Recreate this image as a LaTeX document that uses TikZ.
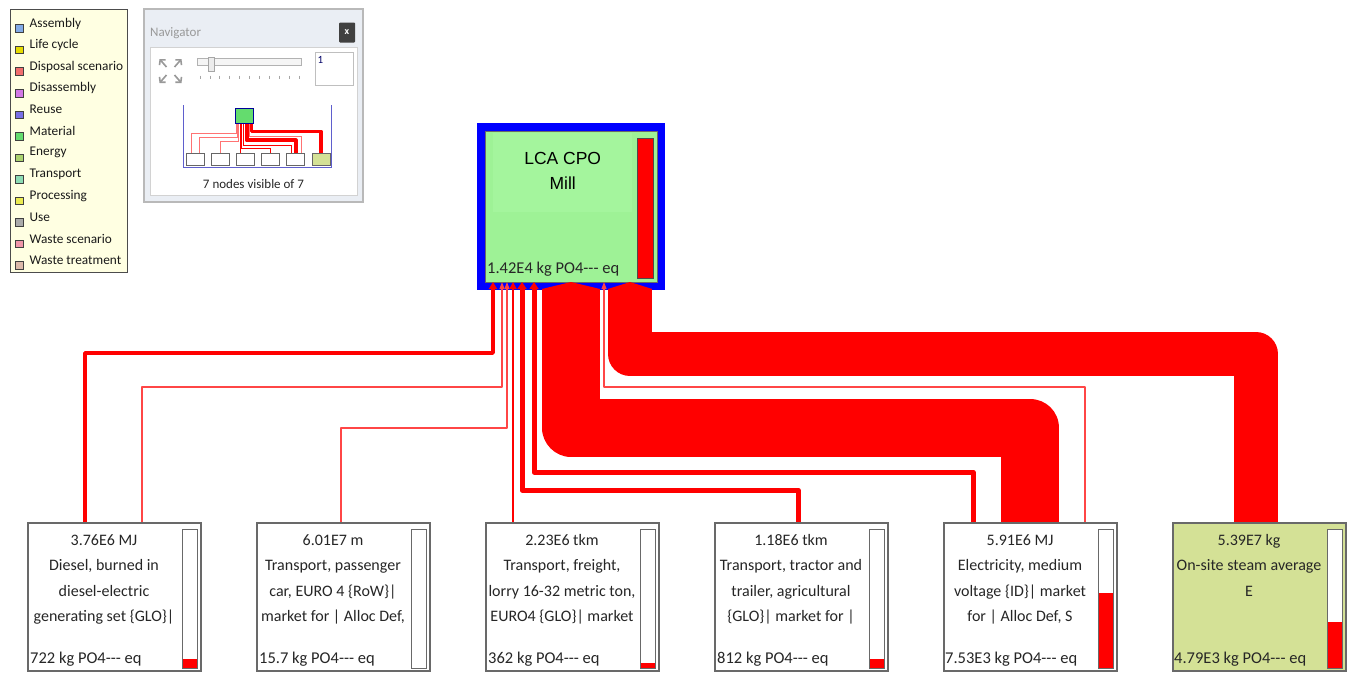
\documentclass[tikz,border=0pt]{standalone}
\usepackage{fontspec}
\setmainfont{Carlito}
\newfontfamily\arialfont{Liberation Sans}
\usepackage{tikz}
\usetikzlibrary{arrows.meta, positioning, calc}

\definecolor{millgreen}{RGB}{158,242,150}
\definecolor{millhi}{RGB}{164,245,157}
\definecolor{steamgreen}{RGB}{212,225,150}
\definecolor{legendbg}{RGB}{255,255,226}
\definecolor{navbg}{RGB}{234,238,244}
\definecolor{boxgray}{RGB}{105,105,105}
\definecolor{miniblue}{RGB}{95,95,205}
\definecolor{thinred}{RGB}{255,70,70}
\definecolor{lgasm}{RGB}{130,170,230}
\definecolor{lglife}{RGB}{230,220,0}
\definecolor{lgdisp}{RGB}{240,110,110}
\definecolor{lgdisa}{RGB}{210,120,230}
\definecolor{lgreuse}{RGB}{120,110,230}
\definecolor{lgmat}{RGB}{100,220,110}
\definecolor{lgener}{RGB}{170,210,110}
\definecolor{lgtrans}{RGB}{140,220,180}
\definecolor{lgproc}{RGB}{235,235,80}
\definecolor{lguse}{RGB}{170,170,170}
\definecolor{lgwsc}{RGB}{240,150,170}
\definecolor{lgwtr}{RGB}{220,185,170}

\newcommand{\poeq}{PO4-{}-{}- eq}

\begin{document}
\begin{tikzpicture}[
    x=1pt, y=-1pt,
    font=\fontsize{16}{25.5}\selectfont,
    flow/.style={draw=red, line join=round, shorten <=-8pt},
    thinflow/.style={flow, draw=thinred, line width=1.2pt, {Triangle[length=7pt, width=5pt]}-},
    mill/.style={rectangle, draw=blue, line width=8pt, fill=millgreen,
      minimum width=180pt, minimum height=159pt},
    millhl/.style={rectangle, fill=millhi, minimum width=139pt, minimum height=79pt},
    milltitle/.style={align=center, inner sep=0pt,
      font=\arialfont\fontsize{17.5}{25}\selectfont},
    millbar/.style={rectangle, draw=black!70, line width=1pt, fill=red,
      minimum width=16pt, minimum height=140pt, inner sep=0pt},
    proc/.style={rectangle, draw=boxgray, line width=2pt, fill=white,
      minimum width=173pt, minimum height=148pt, inner sep=0pt},
    proctext/.style={anchor=north, align=center, inner sep=0pt, text=black!85},
    procval/.style={anchor=base west, inner sep=0pt, text=black!85,
      font=\fontsize{16.5}{20}\selectfont},
    gauge/.style={anchor=south east, rectangle, draw=boxgray, line width=1.5pt,
      fill=white, minimum width=15pt, minimum height=139pt, inner sep=0pt,
      path picture={\fill[red] (path picture bounding box.south west) rectangle
        ($(path picture bounding box.south east)!#1!(path picture bounding box.north east)$);}},
    legendbox/.style={rectangle, draw=gray!60!black, line width=1.5pt, fill=legendbg,
      minimum width=117pt, minimum height=263pt},
    legsq/.style={rectangle, draw=gray!50!black, line width=0.8pt,
      minimum size=7.5pt, inner sep=0pt},
    legtext/.style={anchor=west, inner sep=0pt, text=black!90,
      font=\fontsize{13.3}{15}\selectfont},
    navwin/.style={rectangle, draw=gray!55, line width=1.5pt, fill=navbg,
      minimum width=219pt, minimum height=193pt},
    navtitle/.style={anchor=west, inner sep=0pt, text=gray!80,
      font=\fontsize{13}{15}\selectfont},
    navclose/.style={rectangle, fill=black!75, rounded corners=1pt, text=white,
      minimum width=16pt, minimum height=20pt, inner sep=0pt,
      font=\bfseries\fontsize{10}{12}\selectfont},
    navpanel/.style={rectangle, fill=white, draw=gray!35,
      minimum width=207pt, minimum height=148pt},
    navfield/.style={rectangle, fill=white, draw=gray!50, line width=1pt,
      minimum width=38pt, minimum height=33pt},
    thumb/.style={rectangle, fill=gray!15, draw=gray!70, line width=0.8pt,
      minimum width=6pt, minimum height=14pt, inner sep=0pt},
    minitop/.style={rectangle, fill=lgmat, draw=blue!60!black, line width=1.5pt,
      minimum width=18pt, minimum height=15pt, inner sep=0pt},
    mininode/.style={rectangle, fill=white, draw=black!60, line width=1pt,
      minimum width=18pt, minimum height=12pt, inner sep=0pt},
    miniflow/.style={draw=red!55, line width=0.6pt}
  ]
  \useasboundingbox (0,0) rectangle (1352,672);

  % legend of process types
  \node[legendbox] (legend) at (69,141) {};
  \foreach \lab/\col [count=\i from 0] in {Assembly/lgasm, Life cycle/lglife,
      Disposal scenario/lgdisp, Disassembly/lgdisa, Reuse/lgreuse, Material/lgmat,
      Energy/lgener, Transport/lgtrans, Processing/lgproc, Use/lguse,
      Waste scenario/lgwsc, Waste treatment/lgwtr} {
    \node[legsq, fill=\col] (legsq\i) at (19.5,{28.5+21.55*\i}) {};
    \node[legtext] (legtx\i) at (29.5,{23.5+21.55*\i}) {\lab};
  }

  % navigator window
  \node[navwin] (nav) at (253.5,105.5) {};
  \node[navtitle] (navtitle) at (150,33) {Navigator};
  \node[navclose] (navclose) at (347,32.5) {x};
  \node[navpanel] (navpanel) at (253.5,121) {};
  \foreach \dx/\dy in {-1/-1, 1/-1, -1/1, 1/1}
    \draw[gray!80, line width=1.6pt, -{Straight Barb[length=3.5pt, width=8pt]}]
      ({170.5+4*\dx},{71+4*\dy}) -- ({170.5+11*\dx},{71+12*\dy});
  \draw[gray!60, line width=0.8pt, fill=gray!8] (197,58) rectangle (301,65);
  \node[thumb] (navthumb) at (211.5,64) {};
  \foreach \k in {0,...,10}
    \draw[gray!70, line width=0.8pt] ({200+9.9*\k},75.5) -- ({200+9.9*\k},79);
  \node[navfield] (zoomfield) at (334,69) {};
  \node[anchor=north west, inner sep=0pt, text=blue!40!black,
    font=\fontsize{11}{12}\selectfont] (zoomval) at ([shift={(3pt,-4pt)}]zoomfield.north west) {1};
  \draw[miniblue, line width=0.8pt] (183,105) -- (183,167) -- (331,167) -- (331,105);
  \node[minitop] (minitop) at (244.5,116) {};
  \foreach \k in {0,...,4}
    \node[mininode] (mini\k) at ({195+25.2*\k},159.5) {};
  \node[mininode, fill=steamgreen] (mini5) at (321,159.5) {};
  \draw[miniflow] ([xshift=-8pt]minitop.south) -- ++(0,9) -| ([xshift=-4pt]mini0.north);
  \draw[miniflow] ([xshift=-7pt]minitop.south) -- ++(0,13) -| ([xshift=4pt]mini0.north);
  \draw[miniflow] ([xshift=-6pt]minitop.south) -- ++(0,17) -| (mini1.north);
  \draw[red, line width=0.8pt] ([xshift=-4.5pt]minitop.south) -- ([xshift=-5.4pt]mini2.north);
  \draw[red, line width=0.9pt] ([xshift=-3pt]minitop.south) -- ++(0,24) -| (mini3.north);
  \draw[red, line width=0.9pt] ([xshift=-1.5pt]minitop.south) -- ++(0,21) -| ([xshift=-4pt]mini4.north);
  \draw[red, line width=4pt, line join=round] ([xshift=2pt]minitop.south) -- ++(0,16) -| (mini4.north);
  \draw[miniflow] ([xshift=4.5pt]minitop.south) -- ++(0,12) -| ([xshift=5pt]mini4.north);
  \draw[red, line width=3.5pt, line join=round] ([xshift=7pt]minitop.south) -- ++(0,7) -| (mini5.north);
  \node[inner sep=0pt, text=black!85, font=\fontsize{13}{15}\selectfont] (navinfo) at (253.5,184) {7 nodes visible of 7};

  % top process
  \node[mill] (mill) at (571,206.5) {};
  \draw[boxgray, line width=0.6pt] ([shift={(8pt,-8pt)}]mill.north west) rectangle ([shift={(-8pt,8pt)}]mill.south east);
  \node[millhl, anchor=north west] (millhl) at ([shift={(16pt,-10pt)}]mill.north west) {};
  \node[milltitle] (milltitle) at ([yshift=2pt]millhl.center) {LCA CPO\\Mill};
  \node[millbar, anchor=north east] (millbar) at ([shift={(-11pt,-15pt)}]mill.north east) {};
  \node[procval] (millval) at ([shift={(10pt,16.5pt)}]mill.south west) {1.42E4 kg \poeq};

  % input processes
  \node[proc] (diesel) at (114.5,597) {};
  \node[proc, right=54pt of diesel] (car) {};
  \node[proc, right=54pt of car] (lorry) {};
  \node[proc, right=54pt of lorry] (tractor) {};
  \node[proc, right=54pt of tractor] (elec) {};
  \node[proc, right=54pt of elec, fill=steamgreen] (steam) {};

  \node[proctext] (diesel-txt) at ([shift={(-10.5pt,-12pt)}]diesel.north) {3.76E6 MJ\\Diesel, burned in\\diesel-electric\\generating set \{GLO\}|};
  \node[proctext] (car-txt) at ([shift={(-10.5pt,-12pt)}]car.north) {6.01E7 m\\Transport, passenger\\car, EURO 4 \{RoW\}|\\market for | Alloc Def,};
  \node[proctext] (lorry-txt) at ([shift={(-10.5pt,-12pt)}]lorry.north) {2.23E6 tkm\\Transport, freight,\\lorry 16-32 metric ton,\\EURO4 \{GLO\}| market};
  \node[proctext] (tractor-txt) at ([shift={(-10.5pt,-12pt)}]tractor.north) {1.18E6 tkm\\Transport, tractor and\\trailer, agricultural\\\{GLO\}| market for |};
  \node[proctext] (elec-txt) at ([shift={(-10.5pt,-12pt)}]elec.north) {5.91E6 MJ\\Electricity, medium\\voltage \{ID\}| market\\for | Alloc Def, S};
  \node[proctext] (steam-txt) at ([shift={(-10.5pt,-12pt)}]steam.north) {5.39E7 kg\\On-site steam average\\E};

  \node[procval] (diesel-val) at ([shift={(3pt,9pt)}]diesel.south west) {722 kg \poeq};
  \node[procval] (car-val) at ([shift={(3pt,9pt)}]car.south west) {15.7 kg \poeq};
  \node[procval] (lorry-val) at ([shift={(3pt,9pt)}]lorry.south west) {362 kg \poeq};
  \node[procval] (tractor-val) at ([shift={(3pt,9pt)}]tractor.south west) {812 kg \poeq};
  \node[procval] (elec-val) at ([shift={(2pt,9pt)}]elec.south west) {7.53E3 kg \poeq};
  \node[procval] (steam-val) at ([shift={(2pt,9pt)}]steam.south west) {4.79E3 kg \poeq};

  \node[gauge=0.065] (diesel-gauge) at ([shift={(-4pt,3pt)}]diesel.south east) {};
  \node[gauge=0] (car-gauge) at ([shift={(-4pt,3pt)}]car.south east) {};
  \node[gauge=0.04] (lorry-gauge) at ([shift={(-4pt,3pt)}]lorry.south east) {};
  \node[gauge=0.065] (tractor-gauge) at ([shift={(-4pt,3pt)}]tractor.south east) {};
  \node[gauge=0.54] (elec-gauge) at ([shift={(-4pt,3pt)}]elec.south east) {};
  \node[gauge=0.33] (steam-gauge) at ([shift={(-4pt,3pt)}]steam.south east) {};

  % flows into the mill
  \draw[flow, line width=3.5pt, {Triangle[length=7pt, width=8pt]}-] ([xshift=-78pt]mill.south) -- ++(0,63) -| ([xshift=-29.5pt]diesel.north);
  \draw[thinflow] ([xshift=-69pt]mill.south) -- ++(0,97) -| ([xshift=27.5pt]diesel.north);
  \draw[thinflow] ([xshift=-64pt]mill.south) -- ++(0,138) -| ([xshift=-2.5pt]car.north);
  \draw[flow, line width=2.5pt, {Triangle[length=7pt, width=7pt]}-] ([xshift=-58pt]mill.south) -- ([xshift=-59.5pt]lorry.north);
  \draw[flow, line width=5pt, {Triangle[length=7pt, width=9pt]}-] ([xshift=-49pt]mill.south) -- ++(0,200) -| ([xshift=-3.5pt]tractor.north);
  \draw[flow, line width=5pt, {Triangle[length=7pt, width=9pt]}-] ([xshift=-37pt]mill.south) -- ++(0,182) -| ([xshift=-57.5pt]elec.north);
  \draw[flow, line width=58pt, {Triangle[length=7pt, width=58pt]}-] (mill.south) -- ++(0,137.5) -| ([xshift=-0.5pt]elec.north);
  \draw[thinflow] ([xshift=33pt]mill.south) -- ++(0,97) -| ([xshift=54.5pt]elec.north);
  \draw[flow, line width=44pt, {Triangle[length=7pt, width=44pt]}-] ([xshift=59pt]mill.south) -- ++(0,64) -| ([xshift=-3.5pt]steam.north);
\end{tikzpicture}
\end{document}
